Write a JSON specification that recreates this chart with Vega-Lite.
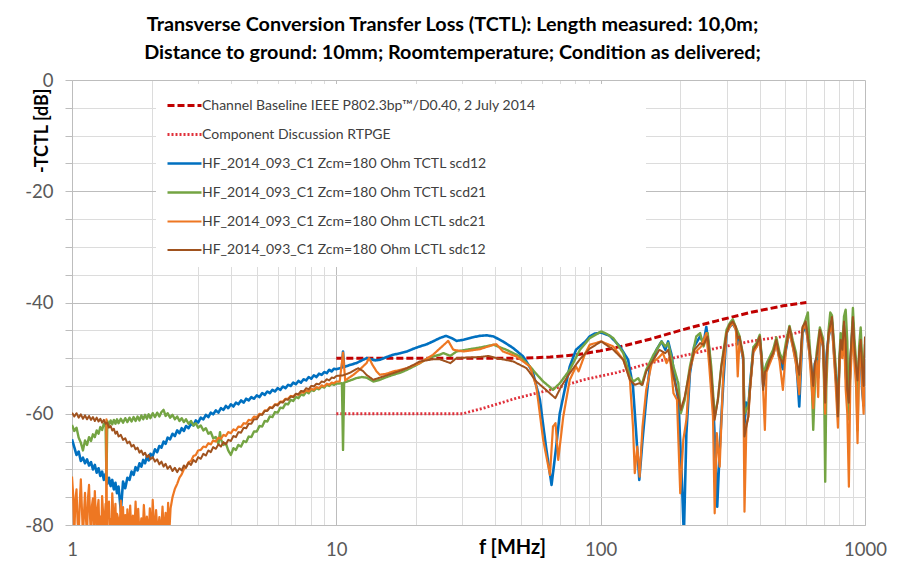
{
"$schema": "https://vega.github.io/schema/vega-lite/v6.json",
"width": 793, "height": 445,
"autosize": {"type": "none"},
"padding": {"left": 72, "top": 80, "right": 45, "bottom": 62},
"background": "white",
"title": {"text": ["Transverse Conversion Transfer Loss (TCTL): Length measured: 10,0m;", "Distance to ground: 10mm; Roomtemperature; Condition as delivered;"], "anchor": "middle", "frame": "group", "font": "Lato", "fontSize": 19.8, "fontWeight": "bold", "color": "#000000", "lineHeight": 28, "offset": 8, "dx": -16},
"config": {"view": {"stroke": null}},
"data": {"values": [
{"s":"a","f":10,"v":-50},{"s":"a","f":20,"v":-50},{"s":"a","f":40,"v":-50},{"s":"a","f":52,"v":-50},{"s":"a","f":64.4,"v":-49.8},{"s":"a","f":81,"v":-49.4},{"s":"a","f":99.6,"v":-48.7},{"s":"a","f":122,"v":-47.8},{"s":"a","f":153.5,"v":-46.6},{"s":"a","f":204,"v":-44.9},{"s":"a","f":275,"v":-43.3},{"s":"a","f":367,"v":-41.8},{"s":"a","f":490,"v":-40.6},{"s":"a","f":600,"v":-40.0},
{"s":"b","f":10,"v":-60},{"s":"b","f":20,"v":-60},{"s":"b","f":30,"v":-60},{"s":"b","f":36,"v":-59.0},{"s":"b","f":48,"v":-57.2},{"s":"b","f":64.4,"v":-55.7},{"s":"b","f":86,"v":-53.9},{"s":"b","f":115,"v":-52.6},{"s":"b","f":153.5,"v":-50.9},{"s":"b","f":204,"v":-49.6},{"s":"b","f":275,"v":-48.2},{"s":"b","f":367,"v":-47.0},{"s":"b","f":490,"v":-46.1},{"s":"b","f":600,"v":-45.0},
{"s":"c","f":1.00,"v":-64.6},{"s":"c","f":1.02,"v":-66.0},{"s":"c","f":1.04,"v":-67.4},{"s":"c","f":1.06,"v":-66.8},{"s":"c","f":1.08,"v":-68.5},{"s":"c","f":1.10,"v":-67.9},{"s":"c","f":1.12,"v":-68.9},{"s":"c","f":1.14,"v":-68.2},{"s":"c","f":1.16,"v":-69.3},{"s":"c","f":1.18,"v":-68.7},{"s":"c","f":1.20,"v":-70.0},{"s":"c","f":1.22,"v":-69.2},{"s":"c","f":1.24,"v":-70.6},{"s":"c","f":1.26,"v":-69.8},{"s":"c","f":1.28,"v":-71.2},{"s":"c","f":1.30,"v":-70.4},{"s":"c","f":1.32,"v":-71.9},{"s":"c","f":1.34,"v":-70.8},{"s":"c","f":1.36,"v":-72.6},{"s":"c","f":1.38,"v":-71.5},{"s":"c","f":1.40,"v":-73.0},{"s":"c","f":1.42,"v":-71.9},{"s":"c","f":1.44,"v":-73.6},{"s":"c","f":1.46,"v":-72.4},{"s":"c","f":1.48,"v":-74.3},{"s":"c","f":1.50,"v":-73.1},{"s":"c","f":1.53,"v":-77.5},{"s":"c","f":1.56,"v":-72.2},{"s":"c","f":1.59,"v":-73.4},{"s":"c","f":1.62,"v":-71.5},{"s":"c","f":1.65,"v":-71.9},{"s":"c","f":1.68,"v":-70.4},{"s":"c","f":1.71,"v":-71.0},{"s":"c","f":1.74,"v":-69.6},{"s":"c","f":1.77,"v":-70.2},{"s":"c","f":1.80,"v":-68.9},{"s":"c","f":1.83,"v":-69.5},{"s":"c","f":1.86,"v":-68.3},{"s":"c","f":1.89,"v":-68.9},{"s":"c","f":1.92,"v":-67.7},{"s":"c","f":1.95,"v":-68.4},{"s":"c","f":1.98,"v":-67.2},{"s":"c","f":2.02,"v":-67.6},{"s":"c","f":2.06,"v":-66.4},{"s":"c","f":2.10,"v":-66.9},{"s":"c","f":2.14,"v":-65.8},{"s":"c","f":2.18,"v":-66.1},{"s":"c","f":2.22,"v":-65.0},{"s":"c","f":2.26,"v":-65.4},{"s":"c","f":2.30,"v":-64.3},{"s":"c","f":2.35,"v":-64.6},{"s":"c","f":2.40,"v":-63.6},{"s":"c","f":2.45,"v":-64.0},{"s":"c","f":2.50,"v":-63.0},{"s":"c","f":2.55,"v":-63.5},{"s":"c","f":2.60,"v":-62.6},{"s":"c","f":2.65,"v":-63.1},{"s":"c","f":2.70,"v":-62.2},{"s":"c","f":2.76,"v":-62.6},{"s":"c","f":2.82,"v":-61.8},{"s":"c","f":2.88,"v":-62.1},{"s":"c","f":2.94,"v":-61.2},{"s":"c","f":3.00,"v":-61.6},{"s":"c","f":3.07,"v":-60.7},{"s":"c","f":3.14,"v":-61.0},{"s":"c","f":3.21,"v":-60.2},{"s":"c","f":3.28,"v":-60.6},{"s":"c","f":3.35,"v":-59.8},{"s":"c","f":3.42,"v":-60.1},{"s":"c","f":3.50,"v":-59.4},{"s":"c","f":3.58,"v":-59.8},{"s":"c","f":3.66,"v":-59.0},{"s":"c","f":3.74,"v":-59.3},{"s":"c","f":3.82,"v":-58.6},{"s":"c","f":3.90,"v":-59.0},{"s":"c","f":3.99,"v":-58.3},{"s":"c","f":4.08,"v":-58.7},{"s":"c","f":4.17,"v":-58.0},{"s":"c","f":4.26,"v":-58.3},{"s":"c","f":4.36,"v":-57.6},{"s":"c","f":4.46,"v":-58.0},{"s":"c","f":4.56,"v":-57.3},{"s":"c","f":4.66,"v":-57.6},{"s":"c","f":4.77,"v":-57.0},{"s":"c","f":4.88,"v":-57.3},{"s":"c","f":5.0,"v":-56.7},{"s":"c","f":5.12,"v":-57.0},{"s":"c","f":5.24,"v":-56.3},{"s":"c","f":5.36,"v":-56.6},{"s":"c","f":5.48,"v":-56.0},{"s":"c","f":5.6,"v":-56.3},{"s":"c","f":5.73,"v":-55.7},{"s":"c","f":5.86,"v":-56.0},{"s":"c","f":6.0,"v":-55.4},{"s":"c","f":6.14,"v":-55.7},{"s":"c","f":6.28,"v":-55.1},{"s":"c","f":6.42,"v":-55.4},{"s":"c","f":6.57,"v":-54.8},{"s":"c","f":6.72,"v":-55.0},{"s":"c","f":6.87,"v":-54.4},{"s":"c","f":7.03,"v":-54.7},{"s":"c","f":7.19,"v":-54.1},{"s":"c","f":7.35,"v":-54.4},{"s":"c","f":7.52,"v":-53.8},{"s":"c","f":7.69,"v":-54.0},{"s":"c","f":7.86,"v":-53.4},{"s":"c","f":8.04,"v":-53.7},{"s":"c","f":8.22,"v":-53.1},{"s":"c","f":8.41,"v":-53.4},{"s":"c","f":8.6,"v":-52.8},{"s":"c","f":8.8,"v":-53.0},{"s":"c","f":9.0,"v":-52.5},{"s":"c","f":9.2,"v":-52.7},{"s":"c","f":9.4,"v":-52.1},{"s":"c","f":9.6,"v":-52.4},{"s":"c","f":9.8,"v":-51.9},{"s":"c","f":10.0,"v":-52.0},
{"s":"c","f":10.5,"v":-51.7},{"s":"c","f":10.6,"v":-48.8},{"s":"c","f":10.7,"v":-51.6},{"s":"c","f":11.3,"v":-51.2},{"s":"c","f":11.9,"v":-50.9},{"s":"c","f":12.5,"v":-50.4},{"s":"c","f":13.0,"v":-50.0},{"s":"c","f":13.5,"v":-50.2},{"s":"c","f":14.0,"v":-50.4},{"s":"c","f":14.6,"v":-50.3},{"s":"c","f":15.5,"v":-49.8},{"s":"c","f":16.4,"v":-49.4},{"s":"c","f":17.5,"v":-49.1},{"s":"c","f":18.5,"v":-48.8},{"s":"c","f":19.6,"v":-48.3},{"s":"c","f":20.7,"v":-47.9},{"s":"c","f":22.0,"v":-47.5},{"s":"c","f":23.2,"v":-47.0},{"s":"c","f":24.6,"v":-46.4},{"s":"c","f":26.0,"v":-46.0},{"s":"c","f":27.3,"v":-46.4},{"s":"c","f":28.5,"v":-46.9},{"s":"c","f":30.3,"v":-46.7},{"s":"c","f":32.5,"v":-46.3},{"s":"c","f":34.9,"v":-46.0},{"s":"c","f":37.0,"v":-45.9},{"s":"c","f":39.3,"v":-46.1},{"s":"c","f":42.7,"v":-47.0},{"s":"c","f":46.7,"v":-48.2},{"s":"c","f":50.9,"v":-49.7},{"s":"c","f":53.0,"v":-51.0},{"s":"c","f":55.5,"v":-52.7},{"s":"c","f":58.9,"v":-57.5},{"s":"c","f":62.1,"v":-65.9},{"s":"c","f":65.2,"v":-72.8},{"s":"c","f":67.9,"v":-65.9},{"s":"c","f":70.0,"v":-60.0},{"s":"c","f":72.2,"v":-56.9},{"s":"c","f":76.4,"v":-51.5},{"s":"c","f":80.7,"v":-48.5},{"s":"c","f":87.5,"v":-47.0},{"s":"c","f":90.9,"v":-46.1},{"s":"c","f":95.0,"v":-45.6},{"s":"c","f":100.5,"v":-45.4},{"s":"c","f":108.4,"v":-46.0},{"s":"c","f":118.2,"v":-47.9},{"s":"c","f":127,"v":-50.3},{"s":"c","f":132.5,"v":-55.1},{"s":"c","f":136,"v":-62.9},{"s":"c","f":140,"v":-71.9},{"s":"c","f":144,"v":-64.7},{"s":"c","f":148.7,"v":-57.5},{"s":"c","f":153.5,"v":-51.5},{"s":"c","f":162.6,"v":-48.5},{"s":"c","f":170,"v":-47.0},{"s":"c","f":175.6,"v":-48.5},{"s":"c","f":180,"v":-47.0},{"s":"c","f":185.4,"v":-49.4},{"s":"c","f":190.8,"v":-53.9},{"s":"c","f":196.6,"v":-57.5},{"s":"c","f":202,"v":-69.5},{"s":"c","f":206.4,"v":-82},{"s":"c","f":211,"v":-63.5},{"s":"c","f":217.6,"v":-52.7},{"s":"c","f":225.8,"v":-47.9},{"s":"c","f":237.8,"v":-46.1},{"s":"c","f":245,"v":-47.3},{"s":"c","f":251,"v":-44.4},{"s":"c","f":257.4,"v":-48.5},{"s":"c","f":266,"v":-57.5},{"s":"c","f":270.4,"v":-64.7},{"s":"c","f":276,"v":-76.7},{"s":"c","f":282,"v":-66.5},{"s":"c","f":291,"v":-54.5},{"s":"c","f":299.4,"v":-45.5},{"s":"c","f":307,"v":-44.4},{"s":"c","f":316,"v":-43.8},{"s":"c","f":325,"v":-44.8},{"s":"c","f":330,"v":-47.5},{"s":"c","f":335,"v":-46.5},{"s":"c","f":346,"v":-50.2},{"s":"c","f":350,"v":-62.0},{"s":"c","f":355,"v":-58.0},{"s":"c","f":362,"v":-59.0},{"s":"c","f":367,"v":-55.0},{"s":"c","f":378,"v":-48.5},{"s":"c","f":389,"v":-47.9},{"s":"c","f":400,"v":-46.5},{"s":"c","f":406,"v":-50.0},{"s":"c","f":412,"v":-55.0},{"s":"c","f":418,"v":-53.5},{"s":"c","f":424,"v":-51.5},{"s":"c","f":436,"v":-50.6},{"s":"c","f":449,"v":-49.3},{"s":"c","f":462,"v":-47.2},{"s":"c","f":475,"v":-50.0},{"s":"c","f":489,"v":-52.0},{"s":"c","f":503,"v":-48.3},{"s":"c","f":518,"v":-45.0},{"s":"c","f":533,"v":-47.6},{"s":"c","f":548,"v":-50.5},{"s":"c","f":556,"v":-54.0},{"s":"c","f":564,"v":-58.7},{"s":"c","f":572,"v":-52.0},{"s":"c","f":580,"v":-45.5},{"s":"c","f":597,"v":-44.0},{"s":"c","f":615,"v":-48.5},{"s":"c","f":626,"v":-52.0},{"s":"c","f":637,"v":-55.5},{"s":"c","f":646,"v":-51.0},{"s":"c","f":656,"v":-50.0},{"s":"c","f":665,"v":-53.5},{"s":"c","f":675,"v":-45.8},{"s":"c","f":694,"v":-47.8},{"s":"c","f":707,"v":-56.0},{"s":"c","f":717,"v":-49.0},{"s":"c","f":728,"v":-46.2},{"s":"c","f":750,"v":-43.5},{"s":"c","f":761,"v":-48.0},{"s":"c","f":772,"v":-52.0},{"s":"c","f":781,"v":-55.5},{"s":"c","f":790,"v":-57.0},{"s":"c","f":800,"v":-51.0},{"s":"c","f":809,"v":-47.5},{"s":"c","f":821,"v":-49.5},{"s":"c","f":833,"v":-44.2},{"s":"c","f":845,"v":-52.5},{"s":"c","f":857,"v":-56.5},{"s":"c","f":869,"v":-58.3},{"s":"c","f":880,"v":-51.0},{"s":"c","f":900,"v":-43.5},{"s":"c","f":912,"v":-49.0},{"s":"c","f":925,"v":-52.5},{"s":"c","f":937,"v":-56.0},{"s":"c","f":950,"v":-50.5},{"s":"c","f":963,"v":-47.5},{"s":"c","f":975,"v":-55.5},{"s":"c","f":988,"v":-58.5},{"s":"c","f":1000,"v":-56.5},
{"s":"d","f":1.00,"v":-62.0},{"s":"d","f":1.02,"v":-63.1},{"s":"d","f":1.04,"v":-62.5},{"s":"d","f":1.06,"v":-64.3},{"s":"d","f":1.08,"v":-65.2},{"s":"d","f":1.10,"v":-66.6},{"s":"d","f":1.12,"v":-64.8},{"s":"d","f":1.14,"v":-65.6},{"s":"d","f":1.16,"v":-64.2},{"s":"d","f":1.18,"v":-64.9},{"s":"d","f":1.20,"v":-63.7},{"s":"d","f":1.22,"v":-64.2},{"s":"d","f":1.24,"v":-63.0},{"s":"d","f":1.26,"v":-63.6},{"s":"d","f":1.28,"v":-62.4},{"s":"d","f":1.30,"v":-62.9},{"s":"d","f":1.32,"v":-61.8},{"s":"d","f":1.34,"v":-62.2},{"s":"d","f":1.35,"v":-72.0},{"s":"d","f":1.36,"v":-61.3},{"s":"d","f":1.38,"v":-62.0},{"s":"d","f":1.40,"v":-61.2},{"s":"d","f":1.42,"v":-61.9},{"s":"d","f":1.44,"v":-61.1},{"s":"d","f":1.46,"v":-61.8},{"s":"d","f":1.48,"v":-61.0},{"s":"d","f":1.50,"v":-61.7},{"s":"d","f":1.53,"v":-60.9},{"s":"d","f":1.56,"v":-61.6},{"s":"d","f":1.59,"v":-60.8},{"s":"d","f":1.62,"v":-61.5},{"s":"d","f":1.65,"v":-60.7},{"s":"d","f":1.68,"v":-61.4},{"s":"d","f":1.71,"v":-60.6},{"s":"d","f":1.74,"v":-61.3},{"s":"d","f":1.77,"v":-60.5},{"s":"d","f":1.80,"v":-61.2},{"s":"d","f":1.83,"v":-60.3},{"s":"d","f":1.86,"v":-61.0},{"s":"d","f":1.89,"v":-60.2},{"s":"d","f":1.92,"v":-60.9},{"s":"d","f":1.95,"v":-60.1},{"s":"d","f":1.98,"v":-60.8},{"s":"d","f":2.02,"v":-59.9},{"s":"d","f":2.06,"v":-60.6},{"s":"d","f":2.10,"v":-59.8},{"s":"d","f":2.14,"v":-60.5},{"s":"d","f":2.18,"v":-59.7},{"s":"d","f":2.22,"v":-59.3},{"s":"d","f":2.26,"v":-60.4},{"s":"d","f":2.30,"v":-59.9},{"s":"d","f":2.35,"v":-60.7},{"s":"d","f":2.40,"v":-60.2},{"s":"d","f":2.45,"v":-61.0},{"s":"d","f":2.50,"v":-60.5},{"s":"d","f":2.55,"v":-61.3},{"s":"d","f":2.60,"v":-60.8},{"s":"d","f":2.65,"v":-61.5},{"s":"d","f":2.70,"v":-61.0},{"s":"d","f":2.76,"v":-61.8},{"s":"d","f":2.82,"v":-61.3},{"s":"d","f":2.88,"v":-62.1},{"s":"d","f":2.94,"v":-61.7},{"s":"d","f":3.00,"v":-62.5},{"s":"d","f":3.07,"v":-62.1},{"s":"d","f":3.14,"v":-63.0},{"s":"d","f":3.21,"v":-62.6},{"s":"d","f":3.28,"v":-63.6},{"s":"d","f":3.35,"v":-63.3},{"s":"d","f":3.42,"v":-64.4},{"s":"d","f":3.50,"v":-64.2},{"s":"d","f":3.58,"v":-65.4},{"s":"d","f":3.63,"v":-63.3},{"s":"d","f":3.66,"v":-64.6},{"s":"d","f":3.74,"v":-65.6},{"s":"d","f":3.82,"v":-65.3},{"s":"d","f":3.90,"v":-66.6},{"s":"d","f":3.99,"v":-67.4},{"s":"d","f":4.08,"v":-66.2},{"s":"d","f":4.17,"v":-66.5},{"s":"d","f":4.26,"v":-65.6},{"s":"d","f":4.36,"v":-65.9},{"s":"d","f":4.46,"v":-64.9},{"s":"d","f":4.56,"v":-65.1},{"s":"d","f":4.66,"v":-64.1},{"s":"d","f":4.77,"v":-64.2},{"s":"d","f":4.88,"v":-63.2},{"s":"d","f":5.0,"v":-63.2},{"s":"d","f":5.12,"v":-62.2},{"s":"d","f":5.24,"v":-62.3},{"s":"d","f":5.36,"v":-61.3},{"s":"d","f":5.48,"v":-61.4},{"s":"d","f":5.6,"v":-60.5},{"s":"d","f":5.73,"v":-60.6},{"s":"d","f":5.86,"v":-59.7},{"s":"d","f":6.0,"v":-59.8},{"s":"d","f":6.14,"v":-58.9},{"s":"d","f":6.28,"v":-59.0},{"s":"d","f":6.42,"v":-58.2},{"s":"d","f":6.57,"v":-58.3},{"s":"d","f":6.72,"v":-57.5},{"s":"d","f":6.87,"v":-57.7},{"s":"d","f":7.03,"v":-57.0},{"s":"d","f":7.19,"v":-57.2},{"s":"d","f":7.35,"v":-56.5},{"s":"d","f":7.52,"v":-56.7},{"s":"d","f":7.69,"v":-56.0},{"s":"d","f":7.86,"v":-56.3},{"s":"d","f":8.04,"v":-55.7},{"s":"d","f":8.22,"v":-55.9},{"s":"d","f":8.41,"v":-55.4},{"s":"d","f":8.6,"v":-55.6},{"s":"d","f":8.8,"v":-55.1},{"s":"d","f":9.0,"v":-55.3},{"s":"d","f":9.2,"v":-54.8},{"s":"d","f":9.4,"v":-55.0},{"s":"d","f":9.6,"v":-54.6},{"s":"d","f":9.8,"v":-54.8},{"s":"d","f":10.0,"v":-54.6},
{"s":"d","f":10.5,"v":-54.5},{"s":"d","f":10.6,"v":-66.5},{"s":"d","f":10.7,"v":-54.4},{"s":"d","f":11.3,"v":-54.0},{"s":"d","f":11.9,"v":-53.6},{"s":"d","f":12.5,"v":-53.4},{"s":"d","f":13.0,"v":-53.5},{"s":"d","f":13.8,"v":-54.2},{"s":"d","f":14.6,"v":-53.9},{"s":"d","f":15.5,"v":-53.4},{"s":"d","f":16.4,"v":-53.0},{"s":"d","f":17.5,"v":-52.6},{"s":"d","f":18.5,"v":-52.1},{"s":"d","f":19.6,"v":-51.5},{"s":"d","f":20.7,"v":-50.9},{"s":"d","f":22.0,"v":-50.1},{"s":"d","f":23.2,"v":-49.7},{"s":"d","f":24.6,"v":-49.4},{"s":"d","f":25.4,"v":-49.1},{"s":"d","f":27.0,"v":-49.6},{"s":"d","f":28.5,"v":-48.8},{"s":"d","f":31.0,"v":-48.5},{"s":"d","f":34.9,"v":-48.1},{"s":"d","f":39.3,"v":-47.6},{"s":"d","f":44,"v":-48.5},{"s":"d","f":49.5,"v":-49.7},{"s":"d","f":54,"v":-51.5},{"s":"d","f":57.5,"v":-53.0},{"s":"d","f":60.6,"v":-54.2},{"s":"d","f":63.5,"v":-55.0},{"s":"d","f":66,"v":-55.7},{"s":"d","f":70.1,"v":-54.5},{"s":"d","f":76.4,"v":-52.1},{"s":"d","f":83.5,"v":-48.5},{"s":"d","f":90.9,"v":-46.4},{"s":"d","f":100.5,"v":-45.2},{"s":"d","f":105,"v":-45.6},{"s":"d","f":111.6,"v":-46.4},{"s":"d","f":121.8,"v":-49.1},{"s":"d","f":129,"v":-53.3},{"s":"d","f":133,"v":-54.2},{"s":"d","f":138.7,"v":-53.6},{"s":"d","f":143,"v":-54.8},{"s":"d","f":148.7,"v":-52.1},{"s":"d","f":158.4,"v":-49.4},{"s":"d","f":170,"v":-47.0},{"s":"d","f":175.6,"v":-47.9},{"s":"d","f":180,"v":-47.3},{"s":"d","f":188.5,"v":-51.5},{"s":"d","f":196.6,"v":-54.5},{"s":"d","f":201,"v":-59.9},{"s":"d","f":208,"v":-57.5},{"s":"d","f":217.6,"v":-51.5},{"s":"d","f":230,"v":-46.1},{"s":"d","f":237.8,"v":-45.5},{"s":"d","f":245,"v":-47.9},{"s":"d","f":254,"v":-45.5},{"s":"d","f":262,"v":-51.5},{"s":"d","f":270,"v":-60.5},{"s":"d","f":277.6,"v":-57.5},{"s":"d","f":286,"v":-51.5},{"s":"d","f":299.4,"v":-44.9},{"s":"d","f":307,"v":-43.8},{"s":"d","f":316,"v":-43.0},{"s":"d","f":325,"v":-44.5},{"s":"d","f":335,"v":-46.0},{"s":"d","f":346,"v":-49.5},{"s":"d","f":350,"v":-60.0},{"s":"d","f":362,"v":-58.5},{"s":"d","f":367,"v":-55.5},{"s":"d","f":378,"v":-48.0},{"s":"d","f":389,"v":-47.3},{"s":"d","f":400,"v":-45.8},{"s":"d","f":412,"v":-53.0},{"s":"d","f":424,"v":-51.0},{"s":"d","f":436,"v":-49.8},{"s":"d","f":449,"v":-48.5},{"s":"d","f":462,"v":-46.3},{"s":"d","f":475,"v":-49.0},{"s":"d","f":489,"v":-50.5},{"s":"d","f":503,"v":-47.0},{"s":"d","f":518,"v":-44.2},{"s":"d","f":533,"v":-46.8},{"s":"d","f":548,"v":-49.0},{"s":"d","f":564,"v":-55.0},{"s":"d","f":580,"v":-44.8},{"s":"d","f":597,"v":-43.0},{"s":"d","f":608,"v":-41.8},{"s":"d","f":615,"v":-46.5},{"s":"d","f":626,"v":-51.5},{"s":"d","f":637,"v":-62.9},{"s":"d","f":646,"v":-55.0},{"s":"d","f":656,"v":-49.0},{"s":"d","f":675,"v":-44.5},{"s":"d","f":694,"v":-46.5},{"s":"d","f":701,"v":-56.0},{"s":"d","f":707,"v":-72.2},{"s":"d","f":714,"v":-55.0},{"s":"d","f":728,"v":-45.0},{"s":"d","f":739,"v":-41.8},{"s":"d","f":750,"v":-42.3},{"s":"d","f":761,"v":-46.5},{"s":"d","f":772,"v":-50.5},{"s":"d","f":781,"v":-56.0},{"s":"d","f":790,"v":-60.5},{"s":"d","f":800,"v":-50.0},{"s":"d","f":809,"v":-45.5},{"s":"d","f":821,"v":-47.5},{"s":"d","f":833,"v":-42.5},{"s":"d","f":845,"v":-41.3},{"s":"d","f":857,"v":-47.0},{"s":"d","f":869,"v":-61.0},{"s":"d","f":880,"v":-52.0},{"s":"d","f":900,"v":-41.0},{"s":"d","f":912,"v":-46.5},{"s":"d","f":925,"v":-50.5},{"s":"d","f":937,"v":-63.0},{"s":"d","f":950,"v":-48.0},{"s":"d","f":963,"v":-44.5},{"s":"d","f":975,"v":-50.0},{"s":"d","f":988,"v":-53.0},{"s":"d","f":1000,"v":-47.5},
{"s":"e","f":1.00,"v":-71.3},{"s":"e","f":1.01,"v":-74.5},{"s":"e","f":1.02,"v":-82},{"s":"e","f":1.03,"v":-75.5},{"s":"e","f":1.04,"v":-73.6},{"s":"e","f":1.05,"v":-79.5},{"s":"e","f":1.06,"v":-82},{"s":"e","f":1.07,"v":-76},{"s":"e","f":1.08,"v":-71.8},{"s":"e","f":1.09,"v":-77},{"s":"e","f":1.10,"v":-82},{"s":"e","f":1.11,"v":-78},{"s":"e","f":1.12,"v":-74.2},{"s":"e","f":1.13,"v":-79},{"s":"e","f":1.14,"v":-82},{"s":"e","f":1.15,"v":-75},{"s":"e","f":1.16,"v":-72.8},{"s":"e","f":1.17,"v":-78.5},{"s":"e","f":1.18,"v":-82},{"s":"e","f":1.19,"v":-76.5},{"s":"e","f":1.20,"v":-75.2},{"s":"e","f":1.21,"v":-80},{"s":"e","f":1.22,"v":-73.9},{"s":"e","f":1.23,"v":-78},{"s":"e","f":1.24,"v":-82},{"s":"e","f":1.25,"v":-77},{"s":"e","f":1.26,"v":-75.5},{"s":"e","f":1.27,"v":-82},{"s":"e","f":1.28,"v":-78.5},{"s":"e","f":1.29,"v":-82},{"s":"e","f":1.30,"v":-74.8},{"s":"e","f":1.31,"v":-77.5},{"s":"e","f":1.32,"v":-82},{"s":"e","f":1.33,"v":-79},{"s":"e","f":1.34,"v":-76.2},{"s":"e","f":1.345,"v":-82},{"s":"e","f":1.35,"v":-61.0},{"s":"e","f":1.355,"v":-82},{"s":"e","f":1.36,"v":-77.5},{"s":"e","f":1.38,"v":-75.8},{"s":"e","f":1.39,"v":-82},{"s":"e","f":1.40,"v":-79},{"s":"e","f":1.41,"v":-82},{"s":"e","f":1.42,"v":-74.3},{"s":"e","f":1.43,"v":-77},{"s":"e","f":1.44,"v":-82},{"s":"e","f":1.46,"v":-76.2},{"s":"e","f":1.47,"v":-82},{"s":"e","f":1.48,"v":-78},{"s":"e","f":1.50,"v":-79.2},{"s":"e","f":1.51,"v":-82},{"s":"e","f":1.53,"v":-75.6},{"s":"e","f":1.54,"v":-82},{"s":"e","f":1.56,"v":-76.8},{"s":"e","f":1.57,"v":-82},{"s":"e","f":1.59,"v":-78.2},{"s":"e","f":1.61,"v":-82},{"s":"e","f":1.62,"v":-77.2},{"s":"e","f":1.64,"v":-82},{"s":"e","f":1.66,"v":-76.5},{"s":"e","f":1.68,"v":-82},{"s":"e","f":1.70,"v":-78.3},{"s":"e","f":1.72,"v":-82},{"s":"e","f":1.74,"v":-75.8},{"s":"e","f":1.76,"v":-82},{"s":"e","f":1.78,"v":-77.1},{"s":"e","f":1.80,"v":-82},{"s":"e","f":1.83,"v":-78.8},{"s":"e","f":1.85,"v":-82},{"s":"e","f":1.87,"v":-76.4},{"s":"e","f":1.90,"v":-82},{"s":"e","f":1.92,"v":-78.5},{"s":"e","f":1.95,"v":-82},{"s":"e","f":1.97,"v":-77.0},{"s":"e","f":2.00,"v":-82},{"s":"e","f":2.02,"v":-75.5},{"s":"e","f":2.05,"v":-82},{"s":"e","f":2.08,"v":-77.3},{"s":"e","f":2.11,"v":-82},{"s":"e","f":2.14,"v":-78.6},{"s":"e","f":2.17,"v":-82},{"s":"e","f":2.20,"v":-76.7},{"s":"e","f":2.23,"v":-82},{"s":"e","f":2.26,"v":-77.8},{"s":"e","f":2.29,"v":-82},{"s":"e","f":2.31,"v":-76.0},{"s":"e","f":2.33,"v":-82},{"s":"e","f":2.36,"v":-77.0},{"s":"e","f":2.40,"v":-75.0},{"s":"e","f":2.45,"v":-73.5},{"s":"e","f":2.50,"v":-72.6},{"s":"e","f":2.55,"v":-71.5},{"s":"e","f":2.60,"v":-70.9},{"s":"e","f":2.65,"v":-70.0},{"s":"e","f":2.70,"v":-69.6},{"s":"e","f":2.76,"v":-68.7},{"s":"e","f":2.82,"v":-68.5},{"s":"e","f":2.88,"v":-67.6},{"s":"e","f":2.94,"v":-67.4},{"s":"e","f":3.00,"v":-66.6},{"s":"e","f":3.07,"v":-66.5},{"s":"e","f":3.14,"v":-65.9},{"s":"e","f":3.21,"v":-66.0},{"s":"e","f":3.28,"v":-65.3},{"s":"e","f":3.35,"v":-65.5},{"s":"e","f":3.42,"v":-64.8},{"s":"e","f":3.50,"v":-65.0},{"s":"e","f":3.58,"v":-64.3},{"s":"e","f":3.66,"v":-64.5},{"s":"e","f":3.74,"v":-63.8},{"s":"e","f":3.82,"v":-64.0},{"s":"e","f":3.90,"v":-63.3},{"s":"e","f":3.99,"v":-63.5},{"s":"e","f":4.08,"v":-62.8},{"s":"e","f":4.17,"v":-63.0},{"s":"e","f":4.26,"v":-62.3},{"s":"e","f":4.36,"v":-62.4},{"s":"e","f":4.46,"v":-61.7},{"s":"e","f":4.56,"v":-61.8},{"s":"e","f":4.66,"v":-61.1},{"s":"e","f":4.77,"v":-61.2},{"s":"e","f":4.88,"v":-60.5},{"s":"e","f":5.0,"v":-60.6},{"s":"e","f":5.12,"v":-60.0},{"s":"e","f":5.24,"v":-60.1},{"s":"e","f":5.36,"v":-59.4},{"s":"e","f":5.48,"v":-59.4},{"s":"e","f":5.6,"v":-58.8},{"s":"e","f":5.73,"v":-58.9},{"s":"e","f":5.86,"v":-58.3},{"s":"e","f":6.0,"v":-58.3},{"s":"e","f":6.14,"v":-57.8},{"s":"e","f":6.28,"v":-57.8},{"s":"e","f":6.42,"v":-57.3},{"s":"e","f":6.57,"v":-57.3},{"s":"e","f":6.72,"v":-56.8},{"s":"e","f":6.87,"v":-56.9},{"s":"e","f":7.03,"v":-56.5},{"s":"e","f":7.19,"v":-56.6},{"s":"e","f":7.35,"v":-56.1},{"s":"e","f":7.52,"v":-56.2},{"s":"e","f":7.69,"v":-55.8},{"s":"e","f":7.86,"v":-56.0},{"s":"e","f":8.04,"v":-55.5},{"s":"e","f":8.22,"v":-55.7},{"s":"e","f":8.41,"v":-55.2},{"s":"e","f":8.6,"v":-55.4},{"s":"e","f":8.8,"v":-54.9},{"s":"e","f":9.0,"v":-55.1},{"s":"e","f":9.2,"v":-54.6},{"s":"e","f":9.4,"v":-54.8},{"s":"e","f":9.6,"v":-54.4},{"s":"e","f":9.8,"v":-54.5},{"s":"e","f":10.0,"v":-54.2},
{"s":"e","f":10.3,"v":-54.2},{"s":"e","f":10.6,"v":-49.0},{"s":"e","f":10.8,"v":-54.0},{"s":"e","f":11.6,"v":-53.0},{"s":"e","f":12.3,"v":-52.0},{"s":"e","f":13.0,"v":-50.9},{"s":"e","f":13.3,"v":-50.0},{"s":"e","f":13.7,"v":-51.2},{"s":"e","f":14.2,"v":-52.4},{"s":"e","f":14.6,"v":-53.0},{"s":"e","f":15.5,"v":-52.8},{"s":"e","f":16.4,"v":-52.4},{"s":"e","f":17.5,"v":-52.1},{"s":"e","f":18.5,"v":-51.8},{"s":"e","f":19.6,"v":-51.3},{"s":"e","f":20.7,"v":-50.9},{"s":"e","f":22.0,"v":-50.1},{"s":"e","f":23.2,"v":-49.4},{"s":"e","f":24.6,"v":-48.3},{"s":"e","f":26.5,"v":-46.9},{"s":"e","f":27.7,"v":-48.5},{"s":"e","f":30.3,"v":-48.8},{"s":"e","f":34.9,"v":-48.4},{"s":"e","f":39.3,"v":-47.6},{"s":"e","f":40.3,"v":-47.5},{"s":"e","f":42.7,"v":-48.8},{"s":"e","f":48,"v":-49.7},{"s":"e","f":54,"v":-51.5},{"s":"e","f":57.1,"v":-55.1},{"s":"e","f":60.6,"v":-64.7},{"s":"e","f":64.3,"v":-71.0},{"s":"e","f":66,"v":-62.3},{"s":"e","f":67.5,"v":-61.7},{"s":"e","f":69.1,"v":-68.3},{"s":"e","f":72.2,"v":-60.5},{"s":"e","f":76.4,"v":-53.9},{"s":"e","f":80.7,"v":-51.5},{"s":"e","f":82.5,"v":-52.4},{"s":"e","f":87.5,"v":-49.1},{"s":"e","f":90.9,"v":-47.6},{"s":"e","f":100.5,"v":-47.0},{"s":"e","f":111.6,"v":-47.9},{"s":"e","f":121.8,"v":-50.3},{"s":"e","f":129,"v":-53.9},{"s":"e","f":132.5,"v":-62.3},{"s":"e","f":134.6,"v":-70.7},{"s":"e","f":137.5,"v":-65.9},{"s":"e","f":140.4,"v":-71.3},{"s":"e","f":144,"v":-62.3},{"s":"e","f":148.7,"v":-55.7},{"s":"e","f":156,"v":-50.9},{"s":"e","f":165,"v":-50.0},{"s":"e","f":172,"v":-49.1},{"s":"e","f":177.5,"v":-50.9},{"s":"e","f":183,"v":-49.7},{"s":"e","f":188.5,"v":-56.3},{"s":"e","f":194.4,"v":-57.5},{"s":"e","f":200,"v":-74.3},{"s":"e","f":205.4,"v":-64.7},{"s":"e","f":211,"v":-61.1},{"s":"e","f":217.6,"v":-52.1},{"s":"e","f":226,"v":-49.1},{"s":"e","f":240,"v":-47.9},{"s":"e","f":251,"v":-45.5},{"s":"e","f":257,"v":-50.9},{"s":"e","f":266,"v":-60.5},{"s":"e","f":270,"v":-77.9},{"s":"e","f":275,"v":-63.5},{"s":"e","f":282,"v":-69.5},{"s":"e","f":291,"v":-52.7},{"s":"e","f":299.4,"v":-45.5},{"s":"e","f":307,"v":-44.5},{"s":"e","f":316,"v":-43.6},{"s":"e","f":325,"v":-45.0},{"s":"e","f":330,"v":-53.3},{"s":"e","f":335,"v":-47.0},{"s":"e","f":346,"v":-50.0},{"s":"e","f":350,"v":-77.6},{"s":"e","f":356,"v":-62.0},{"s":"e","f":362,"v":-60.5},{"s":"e","f":367,"v":-56.0},{"s":"e","f":378,"v":-49.0},{"s":"e","f":389,"v":-48.0},{"s":"e","f":400,"v":-47.0},{"s":"e","f":406,"v":-50.5},{"s":"e","f":412,"v":-56.0},{"s":"e","f":418,"v":-62.9},{"s":"e","f":424,"v":-52.5},{"s":"e","f":436,"v":-51.0},{"s":"e","f":449,"v":-49.5},{"s":"e","f":462,"v":-47.5},{"s":"e","f":475,"v":-50.5},{"s":"e","f":489,"v":-55.7},{"s":"e","f":503,"v":-48.0},{"s":"e","f":518,"v":-45.3},{"s":"e","f":533,"v":-48.0},{"s":"e","f":548,"v":-51.0},{"s":"e","f":564,"v":-56.5},{"s":"e","f":580,"v":-45.0},{"s":"e","f":597,"v":-44.0},{"s":"e","f":615,"v":-49.0},{"s":"e","f":626,"v":-54.0},{"s":"e","f":637,"v":-59.0},{"s":"e","f":646,"v":-52.5},{"s":"e","f":656,"v":-50.5},{"s":"e","f":665,"v":-57.0},{"s":"e","f":675,"v":-45.5},{"s":"e","f":694,"v":-48.0},{"s":"e","f":707,"v":-60.0},{"s":"e","f":717,"v":-50.5},{"s":"e","f":728,"v":-46.0},{"s":"e","f":750,"v":-44.0},{"s":"e","f":761,"v":-49.0},{"s":"e","f":772,"v":-53.5},{"s":"e","f":781,"v":-58.0},{"s":"e","f":790,"v":-62.5},{"s":"e","f":800,"v":-52.0},{"s":"e","f":809,"v":-48.0},{"s":"e","f":821,"v":-50.0},{"s":"e","f":833,"v":-44.5},{"s":"e","f":845,"v":-55.5},{"s":"e","f":857,"v":-60.0},{"s":"e","f":869,"v":-73.1},{"s":"e","f":880,"v":-54.0},{"s":"e","f":900,"v":-44.5},{"s":"e","f":912,"v":-50.5},{"s":"e","f":925,"v":-55.0},{"s":"e","f":937,"v":-65.3},{"s":"e","f":950,"v":-52.0},{"s":"e","f":963,"v":-47.0},{"s":"e","f":975,"v":-55.0},{"s":"e","f":988,"v":-60.0},{"s":"e","f":1000,"v":-52.0},
{"s":"f","f":1.00,"v":-59.8},{"s":"f","f":1.02,"v":-60.5},{"s":"f","f":1.04,"v":-59.9},{"s":"f","f":1.06,"v":-60.7},{"s":"f","f":1.08,"v":-60.1},{"s":"f","f":1.10,"v":-60.9},{"s":"f","f":1.12,"v":-60.3},{"s":"f","f":1.14,"v":-61.0},{"s":"f","f":1.16,"v":-60.4},{"s":"f","f":1.18,"v":-61.1},{"s":"f","f":1.20,"v":-60.6},{"s":"f","f":1.22,"v":-61.3},{"s":"f","f":1.24,"v":-60.7},{"s":"f","f":1.26,"v":-61.4},{"s":"f","f":1.28,"v":-60.9},{"s":"f","f":1.30,"v":-61.6},{"s":"f","f":1.32,"v":-61.1},{"s":"f","f":1.34,"v":-61.8},{"s":"f","f":1.36,"v":-61.6},{"s":"f","f":1.38,"v":-62.5},{"s":"f","f":1.40,"v":-62.2},{"s":"f","f":1.42,"v":-63.0},{"s":"f","f":1.44,"v":-62.7},{"s":"f","f":1.46,"v":-63.6},{"s":"f","f":1.48,"v":-63.2},{"s":"f","f":1.50,"v":-64.1},{"s":"f","f":1.53,"v":-63.8},{"s":"f","f":1.56,"v":-64.7},{"s":"f","f":1.59,"v":-64.4},{"s":"f","f":1.62,"v":-65.3},{"s":"f","f":1.65,"v":-65.0},{"s":"f","f":1.68,"v":-65.9},{"s":"f","f":1.71,"v":-65.6},{"s":"f","f":1.74,"v":-66.4},{"s":"f","f":1.77,"v":-66.1},{"s":"f","f":1.80,"v":-67.0},{"s":"f","f":1.83,"v":-66.6},{"s":"f","f":1.86,"v":-67.4},{"s":"f","f":1.89,"v":-67.0},{"s":"f","f":1.92,"v":-67.8},{"s":"f","f":1.95,"v":-67.4},{"s":"f","f":1.98,"v":-68.2},{"s":"f","f":2.02,"v":-67.8},{"s":"f","f":2.06,"v":-68.6},{"s":"f","f":2.10,"v":-68.2},{"s":"f","f":2.14,"v":-69.1},{"s":"f","f":2.18,"v":-68.6},{"s":"f","f":2.22,"v":-69.5},{"s":"f","f":2.26,"v":-69.0},{"s":"f","f":2.30,"v":-69.9},{"s":"f","f":2.35,"v":-69.4},{"s":"f","f":2.40,"v":-70.3},{"s":"f","f":2.45,"v":-69.7},{"s":"f","f":2.50,"v":-70.5},{"s":"f","f":2.55,"v":-69.8},{"s":"f","f":2.60,"v":-70.2},{"s":"f","f":2.65,"v":-69.3},{"s":"f","f":2.70,"v":-69.7},{"s":"f","f":2.76,"v":-68.8},{"s":"f","f":2.82,"v":-69.2},{"s":"f","f":2.88,"v":-68.3},{"s":"f","f":2.94,"v":-68.7},{"s":"f","f":3.00,"v":-67.8},{"s":"f","f":3.07,"v":-68.1},{"s":"f","f":3.14,"v":-67.2},{"s":"f","f":3.21,"v":-67.5},{"s":"f","f":3.28,"v":-66.6},{"s":"f","f":3.35,"v":-66.9},{"s":"f","f":3.42,"v":-66.0},{"s":"f","f":3.50,"v":-66.3},{"s":"f","f":3.58,"v":-65.5},{"s":"f","f":3.66,"v":-65.9},{"s":"f","f":3.74,"v":-65.1},{"s":"f","f":3.82,"v":-65.5},{"s":"f","f":3.90,"v":-64.7},{"s":"f","f":3.99,"v":-64.9},{"s":"f","f":4.08,"v":-64.0},{"s":"f","f":4.17,"v":-64.2},{"s":"f","f":4.26,"v":-63.3},{"s":"f","f":4.36,"v":-63.4},{"s":"f","f":4.46,"v":-62.5},{"s":"f","f":4.56,"v":-62.6},{"s":"f","f":4.66,"v":-61.8},{"s":"f","f":4.77,"v":-61.8},{"s":"f","f":4.88,"v":-61.0},{"s":"f","f":5.0,"v":-61.0},{"s":"f","f":5.12,"v":-60.2},{"s":"f","f":5.24,"v":-60.2},{"s":"f","f":5.36,"v":-59.5},{"s":"f","f":5.48,"v":-59.5},{"s":"f","f":5.6,"v":-58.9},{"s":"f","f":5.73,"v":-59.0},{"s":"f","f":5.86,"v":-58.4},{"s":"f","f":6.0,"v":-58.5},{"s":"f","f":6.14,"v":-57.9},{"s":"f","f":6.28,"v":-58.0},{"s":"f","f":6.42,"v":-57.4},{"s":"f","f":6.57,"v":-57.5},{"s":"f","f":6.72,"v":-56.9},{"s":"f","f":6.87,"v":-57.0},{"s":"f","f":7.03,"v":-56.4},{"s":"f","f":7.19,"v":-56.5},{"s":"f","f":7.35,"v":-55.9},{"s":"f","f":7.52,"v":-56.0},{"s":"f","f":7.69,"v":-55.4},{"s":"f","f":7.86,"v":-55.6},{"s":"f","f":8.04,"v":-55.0},{"s":"f","f":8.22,"v":-55.1},{"s":"f","f":8.41,"v":-54.6},{"s":"f","f":8.6,"v":-54.7},{"s":"f","f":8.8,"v":-54.2},{"s":"f","f":9.0,"v":-54.3},{"s":"f","f":9.2,"v":-53.8},{"s":"f","f":9.4,"v":-54.0},{"s":"f","f":9.6,"v":-53.5},{"s":"f","f":9.8,"v":-53.6},{"s":"f","f":10.0,"v":-53.2},
{"s":"f","f":10.6,"v":-53.1},{"s":"f","f":11.3,"v":-52.6},{"s":"f","f":12.1,"v":-51.8},{"s":"f","f":12.6,"v":-52.3},{"s":"f","f":13.0,"v":-53.0},{"s":"f","f":13.8,"v":-53.9},{"s":"f","f":14.6,"v":-53.5},{"s":"f","f":15.5,"v":-53.1},{"s":"f","f":16.4,"v":-52.7},{"s":"f","f":17.4,"v":-52.3},{"s":"f","f":18.5,"v":-51.8},{"s":"f","f":19.6,"v":-51.2},{"s":"f","f":20.7,"v":-50.6},{"s":"f","f":22.0,"v":-50.4},{"s":"f","f":23.2,"v":-50.2},{"s":"f","f":24.6,"v":-50.2},{"s":"f","f":26.0,"v":-50.6},{"s":"f","f":27.0,"v":-50.9},{"s":"f","f":28.5,"v":-50.0},{"s":"f","f":31.0,"v":-49.9},{"s":"f","f":34.9,"v":-49.8},{"s":"f","f":37.6,"v":-49.6},{"s":"f","f":40.3,"v":-50.0},{"s":"f","f":43.5,"v":-50.3},{"s":"f","f":46.7,"v":-50.6},{"s":"f","f":52.4,"v":-51.8},{"s":"f","f":57.1,"v":-54.2},{"s":"f","f":62.1,"v":-55.7},{"s":"f","f":67.4,"v":-57.2},{"s":"f","f":70.9,"v":-55.1},{"s":"f","f":76.4,"v":-52.7},{"s":"f","f":83.5,"v":-50.2},{"s":"f","f":90.9,"v":-48.3},{"s":"f","f":100.5,"v":-47.0},{"s":"f","f":111.6,"v":-48.5},{"s":"f","f":121.8,"v":-50.3},{"s":"f","f":129,"v":-53.9},{"s":"f","f":134.6,"v":-54.8},{"s":"f","f":140.4,"v":-54.5},{"s":"f","f":144,"v":-54.8},{"s":"f","f":148.7,"v":-52.4},{"s":"f","f":158.4,"v":-50.3},{"s":"f","f":166.7,"v":-48.5},{"s":"f","f":175.6,"v":-49.1},{"s":"f","f":180,"v":-48.5},{"s":"f","f":188.5,"v":-53.3},{"s":"f","f":196.6,"v":-56.9},{"s":"f","f":201,"v":-59.3},{"s":"f","f":208,"v":-56.9},{"s":"f","f":217.6,"v":-52.1},{"s":"f","f":226,"v":-48.5},{"s":"f","f":237.8,"v":-47.3},{"s":"f","f":245,"v":-47.6},{"s":"f","f":254,"v":-46.1},{"s":"f","f":262,"v":-52.7},{"s":"f","f":270,"v":-61.1},{"s":"f","f":277.6,"v":-57.5},{"s":"f","f":286,"v":-51.5},{"s":"f","f":299.4,"v":-45.5},{"s":"f","f":307,"v":-44.0},{"s":"f","f":316,"v":-43.4},{"s":"f","f":325,"v":-44.4},{"s":"f","f":330,"v":-46.5},{"s":"f","f":335,"v":-46.1},{"s":"f","f":346,"v":-49.7},{"s":"f","f":350,"v":-64.1},{"s":"f","f":362,"v":-60.5},{"s":"f","f":367,"v":-55.7},{"s":"f","f":378,"v":-48.5},{"s":"f","f":389,"v":-47.6},{"s":"f","f":400,"v":-46.1},{"s":"f","f":406,"v":-49.7},{"s":"f","f":412,"v":-55.7},{"s":"f","f":418,"v":-52.5},{"s":"f","f":424,"v":-52.1},{"s":"f","f":436,"v":-50.3},{"s":"f","f":449,"v":-49.1},{"s":"f","f":462,"v":-46.7},{"s":"f","f":475,"v":-49.7},{"s":"f","f":489,"v":-51.0},{"s":"f","f":503,"v":-47.9},{"s":"f","f":518,"v":-44.4},{"s":"f","f":533,"v":-47.3},{"s":"f","f":548,"v":-49.7},{"s":"f","f":564,"v":-53.0},{"s":"f","f":580,"v":-44.4},{"s":"f","f":597,"v":-43.4},{"s":"f","f":615,"v":-47.9},{"s":"f","f":626,"v":-51.0},{"s":"f","f":637,"v":-55.0},{"s":"f","f":646,"v":-51.0},{"s":"f","f":656,"v":-49.7},{"s":"f","f":675,"v":-44.9},{"s":"f","f":694,"v":-47.3},{"s":"f","f":707,"v":-58.0},{"s":"f","f":717,"v":-49.5},{"s":"f","f":728,"v":-45.5},{"s":"f","f":750,"v":-42.6},{"s":"f","f":761,"v":-47.0},{"s":"f","f":772,"v":-51.5},{"s":"f","f":781,"v":-55.0},{"s":"f","f":790,"v":-60.5},{"s":"f","f":800,"v":-50.5},{"s":"f","f":809,"v":-46.7},{"s":"f","f":821,"v":-48.5},{"s":"f","f":833,"v":-43.4},{"s":"f","f":845,"v":-47.0},{"s":"f","f":857,"v":-55.7},{"s":"f","f":869,"v":-58.0},{"s":"f","f":880,"v":-50.0},{"s":"f","f":900,"v":-42.6},{"s":"f","f":912,"v":-48.0},{"s":"f","f":925,"v":-51.5},{"s":"f","f":937,"v":-54.0},{"s":"f","f":950,"v":-49.0},{"s":"f","f":963,"v":-46.7},{"s":"f","f":975,"v":-51.5},{"s":"f","f":988,"v":-55.0},{"s":"f","f":1000,"v":-46.1}
]},
"mark": {"type": "line", "clip": true, "strokeJoin": "round"},
"encoding": {
"x": {"field": "f", "type": "quantitative", "scale": {"type": "log", "domain": [1, 1000], "nice": false},
 "axis": {"values": [1,2,3,4,5,6,7,8,9,10,20,30,40,50,60,70,80,90,100,200,300,400,500,600,700,800,900,1000],
  "labelExpr": "(datum.value==1||datum.value==10||datum.value==100||datum.value==1000) ? ('' + datum.value) : ''",
  "labelOverlap": false, "labelBound": false, "labelFlush": false,
  "grid": true, "gridColor": {"condition": {"test": "datum.value==1||datum.value==10||datum.value==100||datum.value==1000", "value": "#BDBDBD"}, "value": "#DCDCDC"},
  "gridWidth": 1, "tickSize": 0, "ticks": false, "labelPadding": 15, "labelFont": "Lato", "labelFontSize": 18.5, "labelColor": "#595959",
  "domainColor": "#BDBDBD", "domainWidth": 1,
  "title": "f [MHz]", "titleFont": "Lato", "titleFontSize": 20, "titleFontWeight": "bold", "titleColor": "#000000",
  "titleX": 440, "titleY": 22, "titleBaseline": "middle", "titleAlign": "center"}},
"y": {"field": "v", "type": "quantitative", "scale": {"domain": [-80, 0], "nice": false},
 "axis": {"values": [-80,-75,-70,-65,-60,-55,-50,-45,-40,-35,-30,-25,-20,-15,-10,-5,0],
  "labelExpr": "datum.value % 20 == 0 ? ('' + datum.value) : ''",
  "labelOverlap": false, "labelBound": false, "labelFlush": false,
  "grid": true, "gridColor": {"condition": {"test": "datum.value % 20 == 0", "value": "#BDBDBD"}, "value": "#DCDCDC"},
  "tickSize": 7, "tickColor": "#BDBDBD", "labelPadding": 12, "labelFont": "Lato", "labelFontSize": 18.5, "labelColor": "#595959",
  "domainColor": "#BDBDBD",
  "title": "-TCTL [dB]", "titleFont": "Lato", "titleFontSize": 18, "titleFontWeight": "bold", "titleColor": "#000000",
  "titleAngle": 270, "titleX": -30, "titleY": 8, "titleAlign": "right", "titleBaseline": "middle"}},
"color": {"field": "s", "type": "nominal",
 "scale": {"domain": ["a","b","c","d","e","f"], "range": ["#C00000","#E0303A","#0070C0","#74A443","#EE7722","#A0521E"]},
 "legend": {"title": null, "orient": "none", "legendX": 84, "legendY": 4, "fillColor": "#FFFFFF", "padding": 10,
  "symbolType": "M-1.7,0H1.7", "symbolSize": 400, "symbolOffset": 7, "symbolStrokeWidth": 2.5, "rowPadding": 10, "labelOffset": 6,
  "labelFont": "Lato", "labelFontSize": 14, "labelColor": "#404040", "labelLimit": 700,
  "labelExpr": "datum.value=='a' ? 'Channel Baseline IEEE P802.3bp™/D0.40, 2 July 2014\u2800\u2800\u2800\u2800\u2800\u2800\u2800\u2800\u2800\u2800' : datum.value=='b' ? 'Component Discussion RTPGE' : datum.value=='c' ? 'HF_2014_093_C1 Zcm=180 Ohm TCTL scd12' : datum.value=='d' ? 'HF_2014_093_C1 Zcm=180 Ohm TCTL scd21' : datum.value=='e' ? 'HF_2014_093_C1 Zcm=180 Ohm LCTL sdc21' : 'HF_2014_093_C1 Zcm=180 Ohm LCTL sdc12'"}},
"strokeDash": {"field": "s", "type": "nominal",
 "scale": {"domain": ["a","b","c","d","e","f"], "range": [[7,3],[2,2],[1,0],[1,0],[1,0],[1,0]]}},
"strokeWidth": {"field": "s", "type": "nominal", "scale": {"domain": ["a","b","c","d","e","f"], "range": [3,2,2.2,2.2,2.2,2.2]}, "legend": null}
}
}
